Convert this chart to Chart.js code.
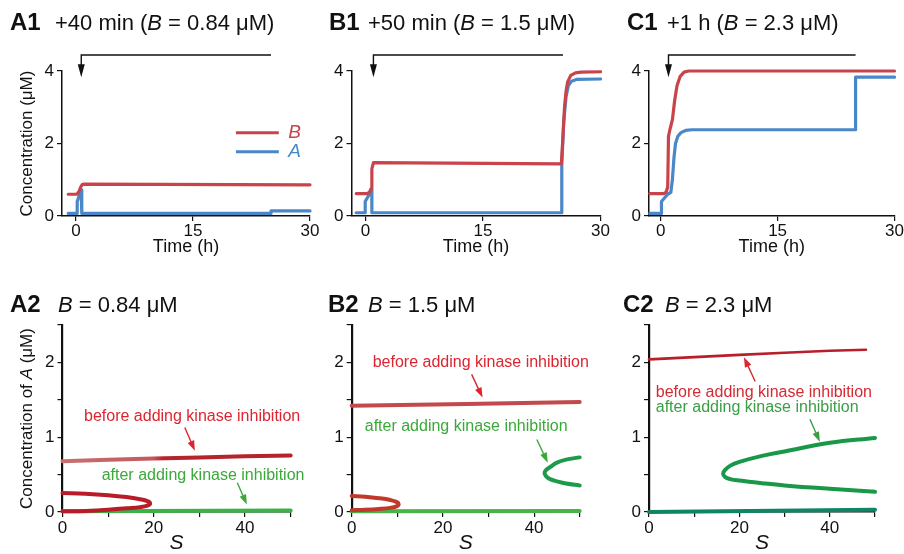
<!DOCTYPE html>
<html>
<head>
<meta charset="utf-8">
<script src="https://cdn.jsdelivr.net/npm/chart.js@4.4.1/dist/chart.umd.min.js"></script>
<style>
  html, body { margin: 0; padding: 0; background: #fff; overflow: hidden; width: 904px; height: 554px; }
  canvas { position: absolute; }
</style>
</head>
<body>
<canvas id="a1" width="320" height="265" style="left:0px;top:0px"></canvas>
<canvas id="b1" width="310" height="265" style="left:300px;top:0px"></canvas>
<canvas id="c1" width="304" height="265" style="left:600px;top:0px"></canvas>
<canvas id="a2" width="320" height="276" style="left:0px;top:280px"></canvas>
<canvas id="b2" width="300" height="276" style="left:300px;top:280px"></canvas>
<canvas id="c2" width="304" height="276" style="left:600px;top:280px"></canvas>
<script>
const FONT = '"Liberation Sans", Arial, Helvetica, sans-serif';

// ---- top row: time courses, time in h, concentration in µM
const topTicks = [0, 15, 30];
const topYTicks = [0, 2, 4];

const a1TimeB = [-1, 0.1, 0.4, 0.6, 0.8, 1.0, 30];
const a1B     = [0.6, 0.6, 0.68, 0.8, 0.87, 0.88, 0.86];
const a1TimeA = [-1, 0.15, 0.15, 0.65, 0.72, 0.75, 25, 25, 30];
const a1A     = [0.07, 0.07, 0.4, 0.72, 0.72, 0.07, 0.07, 0.14, 0.14];

const b1TimeB = [-1.2, 0.2, 0.5, 0.7, 0.8, 1.0, 25, 25.2, 25.4, 25.6, 25.8, 26.2, 26.8, 27.5, 30];
const b1B     = [0.62, 0.62, 0.66, 0.75, 1.3, 1.47, 1.44, 2.2, 3.0, 3.45, 3.7, 3.88, 3.95, 3.97, 3.98];
const b1TimeA = [-1.2, -0.05, -0.05, 0.8, 0.8, 25, 25.05, 25.3, 25.6, 25.9, 26.3, 27, 30];
const b1A     = [0.09, 0.09, 0.4, 0.72, 0.09, 0.09, 1.4, 2.6, 3.3, 3.6, 3.72, 3.77, 3.78];

const c1TimeB = [-1.4, 0.4, 0.7, 0.9, 1.0, 1.2, 1.5, 1.8, 2.1, 2.5, 3.0, 3.6, 30];
const c1B     = [0.62, 0.62, 0.66, 0.8, 2.2, 2.4, 2.65, 3.2, 3.6, 3.85, 3.97, 4.0, 4.0];
const c1TimeA = [-1.4, 0.1, 0.1, 0.9, 1.3, 1.5, 1.7, 1.9, 2.2, 2.6, 3.2, 4, 25, 25, 30];
const c1A     = [0.07, 0.07, 0.4, 0.6, 0.65, 1.0, 1.6, 2.0, 2.2, 2.3, 2.36, 2.38, 2.38, 3.83, 3.83];

// inhibitor added at (h) -> arrow drawn back from 25 h
const inhibitorTimes = { a1: 0.67, b1: 1.0, c1: 1.0 };

// ---- bottom row: steady states of A (µM) against S
const botXTicks = [0, 10, 20, 30, 40, 50];
const botXLabels = [0, 20, 40];
const botYTicks = [0, 0.5, 1, 1.5, 2, 2.5];
const botYLabels = [0, 1, 2];

const a2UpperS = [0, 10, 20, 30, 40, 50];
const a2UpperA = [0.68, 0.70, 0.715, 0.73, 0.745, 0.755];
const a2FoldS  = [0, 5, 10, 14, 17, 18.6, 19.2, 18.6, 17, 14, 10, 5, 0];
const a2FoldA  = [0.255, 0.245, 0.225, 0.2, 0.17, 0.145, 0.115, 0.085, 0.065, 0.05, 0.03, 0.015, 0.01];
const a2AfterS = [0, 50];
const a2AfterA = [0.01, 0.02];

const b2UpperS = [0, 25, 50];
const b2UpperA = [1.42, 1.445, 1.47];
const b2FoldS  = [0, 3, 6, 8.5, 9.8, 10.3, 9.8, 8.5, 6, 3, 0];
const b2FoldA  = [0.215, 0.205, 0.185, 0.16, 0.135, 0.105, 0.075, 0.055, 0.04, 0.03, 0.025];
const b2AfterS = [0, 50];
const b2AfterA = [0.01, 0.012];
const b2AfterFoldS = [50, 47, 45, 43.5, 42.6, 42.3, 42.6, 43.5, 45, 47, 50];
const b2AfterFoldA = [0.73, 0.7, 0.66, 0.6, 0.56, 0.52, 0.48, 0.44, 0.41, 0.38, 0.355];

const c2UpperS = [0, 10, 20, 30, 40, 48];
const c2UpperA = [2.04, 2.07, 2.1, 2.13, 2.155, 2.17];
const c2AfterFoldS = [50, 40, 30, 25, 20, 18, 16.8, 16.4, 16.8, 18, 20, 25, 30, 40, 50];
const c2AfterFoldA = [0.99, 0.925, 0.81, 0.75, 0.67, 0.62, 0.56, 0.515, 0.47, 0.44, 0.42, 0.385, 0.355, 0.31, 0.27];
const c2AfterS = [0, 50];
const c2AfterA = [0.0, 0.03];

const RED = '#c9444a', BLUE = '#4a87c8';
const TXT_RED = '#dc2530', TXT_GREEN = '#3ba83a';

function pts(xs, ys) { return xs.map((x, i) => ({ x: x, y: ys[i] })); }
const f = (style, size) => style + ' ' + size + 'px ' + FONT;

function drawRich(ctx, x, y, parts, align) {
  let w = 0;
  parts.forEach(p => { ctx.font = p.f; w += ctx.measureText(p.t).width; });
  let cx = align === 'center' ? x - w / 2 : x;
  ctx.textAlign = 'left';
  parts.forEach(p => {
    ctx.font = p.f;
    ctx.fillStyle = p.c || '#111';
    ctx.fillText(p.t, cx, y);
    cx += ctx.measureText(p.t).width;
  });
}

function head(ctx, x1, y1, x2, y2, len, wid) {
  const a = Math.atan2(y2 - y1, x2 - x1);
  ctx.beginPath();
  ctx.moveTo(x2, y2);
  ctx.lineTo(x2 - len * Math.cos(a) + wid / 2 * Math.sin(a), y2 - len * Math.sin(a) - wid / 2 * Math.cos(a));
  ctx.lineTo(x2 - len * Math.cos(a) - wid / 2 * Math.sin(a), y2 - len * Math.sin(a) + wid / 2 * Math.cos(a));
  ctx.closePath();
  ctx.fill();
}

// titles, arrows, notes and legend drawn on top of each panel
const decor = {
  id: 'decor',
  afterDraw(chart, args, o) {
    const ctx = chart.ctx;
    const px = v => chart.scales.x.getPixelForValue(v);
    const py = v => chart.scales.y.getPixelForValue(v);
    ctx.save();
    ctx.textBaseline = 'alphabetic';
    if (o.title) {
      drawRich(ctx, o.title.x, o.title.y, [{ t: o.title.label, f: f('bold', 24) }], 'left');
      drawRich(ctx, o.title.x2, o.title.y, o.title.parts, 'left');
    }
    if (o.yTitle) {
      ctx.save();
      ctx.translate(o.yTitle.x, (chart.chartArea.top + chart.chartArea.bottom) / 2);
      ctx.rotate(-Math.PI / 2);
      ctx.textBaseline = 'middle';
      drawRich(ctx, 0, 0, o.yTitle.parts, 'center');
      ctx.restore();
    }
    if (o.arrow) {
      const x1 = px(o.arrow.from), x2 = px(o.arrow.to), y = py(o.arrow.level), yt = py(o.arrow.tip);
      ctx.strokeStyle = '#111'; ctx.fillStyle = '#111'; ctx.lineWidth = 1.4;
      ctx.beginPath(); ctx.moveTo(x1, y); ctx.lineTo(x2, y); ctx.lineTo(x2, yt - 8); ctx.stroke();
      head(ctx, x2, y, x2, yt, 13, 7);
    }
    (o.notes || []).forEach(n => {
      ctx.font = f('normal', 16);
      ctx.fillStyle = n.color;
      ctx.textAlign = n.align;
      ctx.textBaseline = 'middle';
      ctx.fillText(n.text, px(n.x), py(n.y));
      if (n.arrow) {
        const [ax, ay, bx, by] = n.arrow.map((v, i) => i % 2 ? py(v) : px(v));
        ctx.strokeStyle = n.color; ctx.lineWidth = 1.4;
        const a = Math.atan2(by - ay, bx - ax);
        ctx.beginPath(); ctx.moveTo(ax, ay); ctx.lineTo(bx - 6 * Math.cos(a), by - 6 * Math.sin(a)); ctx.stroke();
        head(ctx, ax, ay, bx, by, 10, 7);
      }
    });
    if (o.legend) {
      o.legend.forEach(l => {
        ctx.strokeStyle = l.color; ctx.lineWidth = 3;
        ctx.beginPath(); ctx.moveTo(px(l.x1), py(l.y)); ctx.lineTo(px(l.x2), py(l.y)); ctx.stroke();
        ctx.font = f('italic', 19);
        ctx.fillStyle = l.color; ctx.textAlign = 'left'; ctx.textBaseline = 'middle';
        ctx.fillText(l.text, px(l.x3), py(l.y));
      });
    }
    ctx.restore();
  }
};

function axis(o) {
  return {
    type: 'linear', min: o.min, max: o.max,
    afterFit: s => { if (s.isHorizontal()) s.height = o.size; else s.width = o.size; },
    afterBuildTicks: s => { s.ticks = o.ticks.map(v => ({ value: v })); },
    ticks: {
      autoSkip: false, maxRotation: 0, padding: o.pad, color: '#111',
      font: { family: FONT, size: 17 },
      callback: v => (o.labels.includes(v) ? String(v) : '')
    },
    grid: { drawOnChartArea: false, drawTicks: true, tickLength: 5, color: '#111', lineWidth: 1.2 },
    border: { display: true, color: '#111', width: o.border },
    title: o.title || { display: false }
  };
}

function makePanel(p) {
  return new Chart(document.getElementById(p.id), {
    type: 'line',
    data: {
      datasets: p.series.map(s => ({
        data: s.data, borderColor: s.color, borderWidth: s.width,
        pointRadius: 0, tension: s.tension || 0, clip: false, fill: false,
        borderCapStyle: 'round', borderJoinStyle: 'round'
      }))
    },
    options: {
      responsive: false, animation: false, events: [],
      layout: { padding: p.pad },
      plugins: { legend: { display: false }, tooltip: { enabled: false }, decor: p.decor },
      scales: { x: axis(p.x), y: axis(p.y) }
    },
    plugins: [decor]
  });
}

const timeTitle = { display: true, text: 'Time (h)', color: '#111', font: { family: FONT, size: 18 }, padding: { top: 0, bottom: 7 } };
const sTitle = { display: true, text: 'S', color: '#111', font: { family: FONT, size: 21, style: 'italic' }, padding: { top: 0, bottom: 0 } };
const N22 = f('normal', 22), I22 = f('italic', 22);
const topX = (min) => ({ min: min, max: 30, ticks: topTicks, labels: topTicks, size: 49, pad: 0, border: 1.5, title: timeTitle });
const topY = (w) => ({ min: 0, max: 4, ticks: topYTicks, labels: topYTicks, size: w, pad: 3, border: 1.5 });
const botX = { min: 0, max: 50, ticks: botXTicks, labels: botXLabels, size: 44, pad: 1, border: 1.5, title: sTitle };
const botY = (w) => ({ min: 0, max: 2.5, ticks: botYTicks, labels: botYLabels, size: w, pad: 3, border: 2.2 });

function upperRed(c) {
  const ch = c.chart;
  if (!ch.chartArea) return '#b5232b';
  const g = ch.ctx.createLinearGradient(ch.scales.x.getPixelForValue(0), 0, ch.scales.x.getPixelForValue(22), 0);
  g.addColorStop(0, '#c97070');
  g.addColorStop(0.9, '#c25a5a');
  g.addColorStop(1, '#b5232b');
  return g;
}

makePanel({
  id: 'a1', pad: { left: 0, top: 71, right: 10, bottom: 0 },
  x: topX(-1.8), y: topY(62),
  series: [
    { data: pts(a1TimeB, a1B), color: RED, width: 3.2 },
    { data: pts(a1TimeA, a1A), color: BLUE, width: 3.2 }
  ],
  decor: {
    title: { label: 'A1', x: 10, x2: 55, y: 29.5, parts: [{ t: '+40 min (', f: N22 }, { t: 'B', f: I22 }, { t: ' = 0.84 μM)', f: N22 }] },
    yTitle: { x: 27, parts: [{ t: 'Concentration (μM)', f: f('normal', 17) }] },
    arrow: { from: 25, to: inhibitorTimes.a1, level: 4.44, tip: 3.83 },
    legend: [
      { text: 'B', color: RED, x1: 20.5, x2: 26, x3: 27.2, y: 2.3 },
      { text: 'A', color: BLUE, x1: 20.5, x2: 26, x3: 27.2, y: 1.77 }
    ]
  }
});

makePanel({
  id: 'b1', pad: { left: 0, top: 71, right: 9, bottom: 0 },
  x: topX(-1.8), y: topY(51.5),
  series: [
    { data: pts(b1TimeB, b1B), color: RED, width: 3.2 },
    { data: pts(b1TimeA, b1A), color: BLUE, width: 3.2 }
  ],
  decor: {
    title: { label: 'B1', x: 29, x2: 68, y: 29.5, parts: [{ t: '+50 min (', f: N22 }, { t: 'B', f: I22 }, { t: ' = 1.5 μM)', f: N22 }] },
    arrow: { from: 25.2, to: inhibitorTimes.b1, level: 4.44, tip: 3.83 }
  }
});

makePanel({
  id: 'c1', pad: { left: 0, top: 71, right: 8, bottom: 0 },
  x: topX(-1.5), y: topY(49),
  series: [
    { data: pts(c1TimeB, c1B), color: RED, width: 3.2 },
    { data: pts(c1TimeA, c1A), color: BLUE, width: 3.2 }
  ],
  decor: {
    title: { label: 'C1', x: 27, x2: 67, y: 29.5, parts: [{ t: '+1 h (', f: N22 }, { t: 'B', f: I22 }, { t: ' = 2.3 μM)', f: N22 }] },
    arrow: { from: 25, to: inhibitorTimes.c1, level: 4.44, tip: 3.83 }
  }
});

makePanel({
  id: 'a2', pad: { left: 0, top: 45, right: 29.3, bottom: 0 },
  x: botX, y: botY(62.5),
  series: [
    { data: pts(a2UpperS, a2UpperA), color: upperRed, width: 4 },
    { data: pts(a2FoldS, a2FoldA), color: '#b81c28', width: 4, tension: 0.4 },
    { data: pts(a2AfterS, a2AfterA), color: '#3db04a', width: 4 }
  ],
  decor: {
    title: { label: 'A2', x: 10, x2: 58, y: 32, parts: [{ t: 'B', f: I22 }, { t: ' = 0.84 μM', f: N22 }] },
    yTitle: { x: 27, parts: [{ t: 'Concentration of ', f: f('normal', 17) }, { t: 'A', f: f('italic', 17) }, { t: ' (μM)', f: f('normal', 17) }] },
    notes: [
      { text: 'before adding kinase inhibition', color: TXT_RED, align: 'center', x: 28.4, y: 1.28, arrow: [26.8, 1.13, 29, 0.82] },
      { text: 'after adding kinase inhibition', color: TXT_GREEN, align: 'center', x: 30.8, y: 0.49, arrow: [38.3, 0.39, 40.4, 0.1] }
    ]
  }
});

makePanel({
  id: 'b2', pad: { left: 0, top: 45, right: 20.3, bottom: 0 },
  x: botX, y: botY(51.7),
  series: [
    { data: pts(b2UpperS, b2UpperA), color: '#c24a4e', width: 4 },
    { data: pts(b2FoldS, b2FoldA), color: '#c0392b', width: 4, tension: 0.4 },
    { data: pts(b2AfterS, b2AfterA), color: '#46b34b', width: 4 },
    { data: pts(b2AfterFoldS, b2AfterFoldA), color: '#1e9a4a', width: 4, tension: 0.4 }
  ],
  decor: {
    title: { label: 'B2', x: 28, x2: 68, y: 32, parts: [{ t: 'B', f: I22 }, { t: ' = 1.5 μM', f: N22 }] },
    notes: [
      { text: 'before adding kinase inhibition', color: TXT_RED, align: 'center', x: 28.3, y: 2.0, arrow: [26.3, 1.84, 28.7, 1.53] },
      { text: 'after adding kinase inhibition', color: TXT_GREEN, align: 'center', x: 25.1, y: 1.14, arrow: [40.6, 0.97, 43, 0.66] }
    ]
  }
});

makePanel({
  id: 'c2', pad: { left: 0, top: 45, right: 29, bottom: 0 },
  x: botX, y: botY(49),
  series: [
    { data: pts(c2UpperS, c2UpperA), color: '#b81f2a', width: 2.6 },
    { data: pts(c2AfterFoldS, c2AfterFoldA), color: '#189848', width: 4, tension: 0.4 },
    { data: pts(c2AfterS, c2AfterA), color: '#118466', width: 4 }
  ],
  decor: {
    title: { label: 'C2', x: 23, x2: 65, y: 32, parts: [{ t: 'B', f: I22 }, { t: ' = 2.3 μM', f: N22 }] },
    notes: [
      { text: 'before adding kinase inhibition', color: '#d42a33', align: 'left', x: 1.5, y: 1.6, arrow: [23.5, 1.745, 21, 2.07] },
      { text: 'after adding kinase inhibition', color: '#3a9e45', align: 'left', x: 1.5, y: 1.4, arrow: [35.6, 1.24, 37.8, 0.94] }
    ]
  }
});
</script>
</body>
</html>
